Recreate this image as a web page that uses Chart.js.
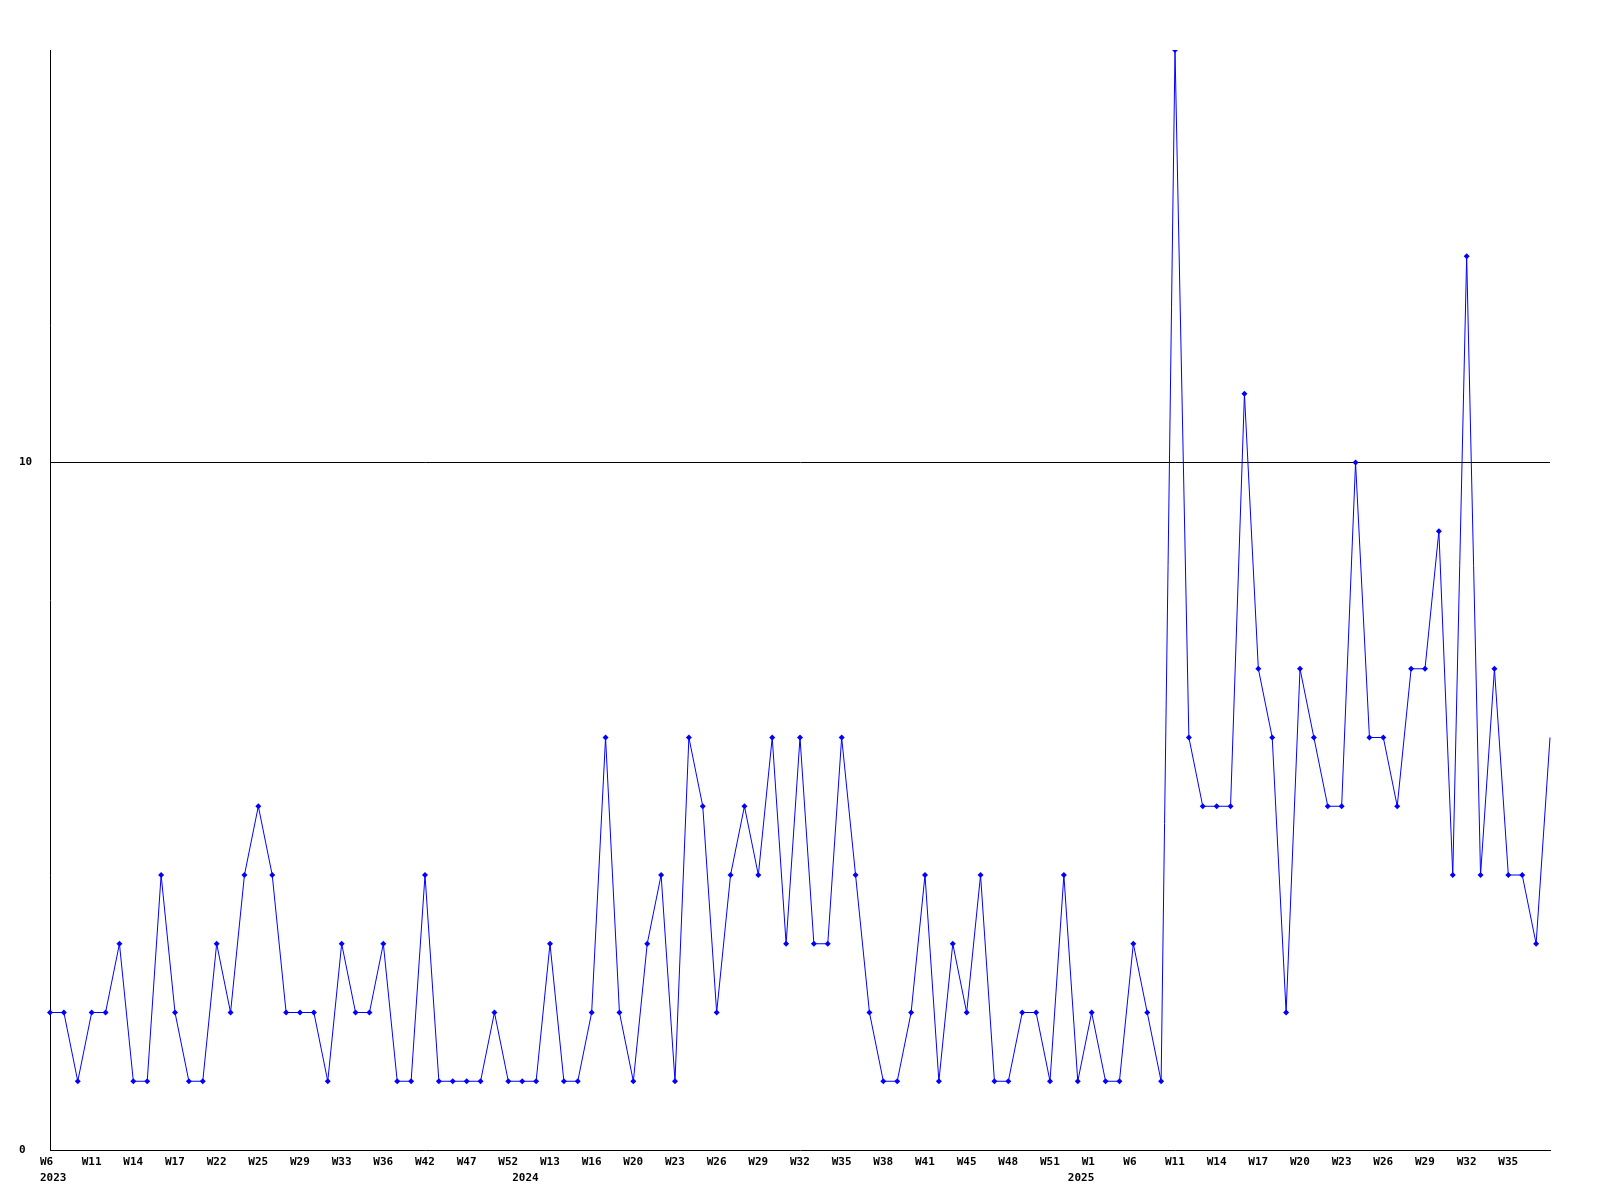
<!DOCTYPE html>
<html>
<head>
<meta charset="utf-8">
<script src="https://cdn.jsdelivr.net/npm/chart.js@4/dist/chart.umd.min.js"></script>
<style>
  html, body { margin: 0; padding: 0; background: #fff; }
  #wrap { width: 1600px; height: 1200px; }
</style>
</head>
<body>
<div id="wrap"><canvas id="grafico" width="1600" height="1200"></canvas></div>
<script>
// --- DATOS ---
const weeks = [
  "W6", "W8", "W10", "W11", "W12", "W13", "W14", "W15", "W16", "W17",
  "W19", "W20", "W22", "W23", "W24", "W25", "W26", "W28", "W29", "W31",
  "W32", "W33", "W34", "W35", "W36", "W38", "W40", "W42", "W44", "W45",
  "W47", "W48", "W50", "W52", "W0", "W5", "W13", "W14", "W15", "W16",
  "W18", "W19", "W20", "W21", "W22", "W23", "W24", "W25", "W26", "W27",
  "W28", "W29", "W30", "W31", "W32", "W33", "W34", "W35", "W36", "W37",
  "W38", "W39", "W40", "W41", "W43", "W44", "W45", "W46", "W47", "W48",
  "W49", "W50", "W51", "W52", "W0", "W1", "W3", "W4", "W6", "W8",
  "W10", "W11", "W12", "W13", "W14", "W15", "W16", "W17", "W18", "W19",
  "W20", "W21", "W22", "W23", "W24", "W25", "W26", "W27", "W28", "W29",
  "W30", "W31", "W32", "W33", "W34", "W35", "W36", "W37", "W38"
];

// año de cada punto (se muestra cuando cambia)
const years = [
  ...Array(34).fill("2023"),
  ...Array(40).fill("2024"),
  ...Array(35).fill("2025")
];

const values = [
  2, 2, 1, 2, 2, 3, 1, 1, 4, 2,
  1, 1, 3, 2, 4, 5, 4, 2, 2, 2,
  1, 3, 2, 2, 3, 1, 1, 4, 1, 1,
  1, 1, 2, 1, 1, 1, 3, 1, 1, 2,
  6, 2, 1, 3, 4, 1, 6, 5, 2, 4,
  5, 4, 6, 3, 6, 3, 3, 6, 4, 2,
  1, 1, 2, 4, 1, 3, 2, 4, 1, 1,
  2, 2, 1, 4, 1, 2, 1, 1, 3, 2,
  1, 16, 6, 5, 5, 5, 11, 7, 6, 2,
  7, 6, 5, 5, 10, 6, 6, 5, 7, 7,
  9, 4, 13, 4, 7, 4, 4, 3, 6
];

const yTicks = [0, 10];
const labelEvery = 3;
const last = values.length - 1; // semana en curso: sin marcador ni etiqueta

const ctx = document.getElementById("grafico");

new Chart(ctx, {
  type: "line",
  data: {
    labels: weeks,
    datasets: [{
      data: values,
      borderColor: "#0000ff",
      backgroundColor: "#0000ff",
      borderWidth: 1,
      tension: 0,
      pointStyle: "rectRot",
      pointRadius: c => c.dataIndex === last ? 0 : 3,
      pointBorderWidth: 0,
      pointHoverRadius: 3
    }]
  },
  options: {
    responsive: false,
    devicePixelRatio: 1,
    animation: false,
    layout: { padding: { top: 50, right: 50, left: 19, bottom: 0 } },
    plugins: {
      legend: { display: false },
      tooltip: { enabled: false }
    },
    scales: {
      x: {
        offset: false,
        grid: { color: "rgba(0,0,0,0)", drawTicks: false },
        border: { display: true, color: "#000", width: 1 },
        afterFit: s => { s.height = 50; },
        ticks: {
          autoSkip: false,
          maxRotation: 0,
          minRotation: 0,
          align: "start",
          labelOffset: -10,
          padding: 4,
          color: "#000",
          font: { family: "DejaVu Sans Mono", size: 11, weight: "bold", lineHeight: "16px" },
          callback: (val, i) => {
            const w = (i % labelEvery === 0 && i !== last) ? weeks[i] : "";
            const y = (i === 0 || years[i] !== years[i - 1]) ? years[i] : "";
            return [w, y];
          }
        }
      },
      y: {
        min: 0,
        max: 16,
        afterBuildTicks: s => { s.ticks = yTicks.map(v => ({ value: v })); },
        afterFit: s => { s.width = 31; },
        grid: {
          drawTicks: false,
          color: c => c.tick && c.tick.value === 10 ? "#000" : "rgba(0,0,0,0)",
          lineWidth: 1
        },
        border: { display: true, color: "#000", width: 1 },
        ticks: {
          crossAlign: "far",
          padding: 0,
          color: "#000",
          font: { family: "DejaVu Sans Mono", size: 11, weight: "bold" }
        }
      }
    }
  }
});
</script>
</body>
</html>
